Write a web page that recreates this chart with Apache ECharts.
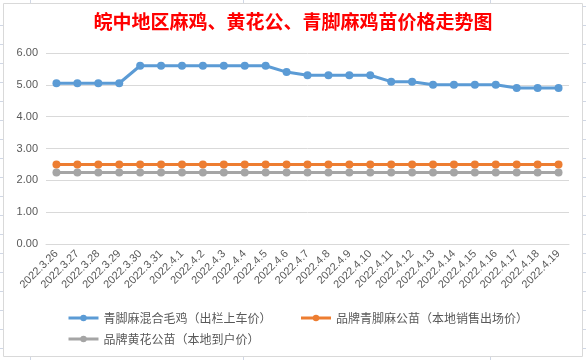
<!DOCTYPE html>
<html><head><meta charset="utf-8">
<script src="https://cdn.jsdelivr.net/npm/echarts@6/dist/echarts.min.js"></script>
<style>html,body{margin:0;padding:0;background:#fff}#c{width:586px;height:360px}</style>
</head><body><div id="c"></div>
<script>
const categories = ['2022.3.26','2022.3.27','2022.3.28','2022.3.29','2022.3.30','2022.3.31','2022.4.1','2022.4.2','2022.4.3','2022.4.4','2022.4.5','2022.4.6','2022.4.7','2022.4.8','2022.4.9','2022.4.10','2022.4.11','2022.4.12','2022.4.13','2022.4.14','2022.4.15','2022.4.16','2022.4.17','2022.4.18','2022.4.19'];
const seriesNames = ['青脚麻混合毛鸡（出栏上车价）','品牌青脚麻公苗（本地销售出场价）','品牌黄花公苗（本地到户价）'];
const blueValues = [5.05,5.05,5.05,5.05,5.6,5.6,5.6,5.6,5.6,5.6,5.6,5.4,5.3,5.3,5.3,5.3,5.1,5.1,5.0,5.0,5.0,5.0,4.9,4.9,4.9];
const orangeValues = [2.5,2.5,2.5,2.5,2.5,2.5,2.5,2.5,2.5,2.5,2.5,2.5,2.5,2.5,2.5,2.5,2.5,2.5,2.5,2.5,2.5,2.5,2.5,2.5,2.5];
const grayValues = [2.25,2.25,2.25,2.25,2.25,2.25,2.25,2.25,2.25,2.25,2.25,2.25,2.25,2.25,2.25,2.25,2.25,2.25,2.25,2.25,2.25,2.25,2.25,2.25,2.25];
const yTicks = [0,1,2,3,4,5,6];
const colors = ['#5B9BD5','#ED7D31','#A5A5A5'];

const chart = echarts.init(document.getElementById('c'));
const stub = '#D0D7E5';
const graphics = [{type:'rect', shape:{x:3.5,y:3.5,width:579,height:353}, style:{fill:'none',stroke:'#D9D9D9',lineWidth:1}, z:-1}];
for (let y = 6; y < 360; y += 19) {
  graphics.push({type:'line', shape:{x1:583,y1:y+0.5,x2:586,y2:y+0.5}, style:{stroke:stub,lineWidth:1}});
  if (y > 6) graphics.push({type:'line', shape:{x1:0,y1:y+0.5,x2:3,y2:y+0.5}, style:{stroke:stub,lineWidth:1}});
}
[30,243,490].forEach(x => {
  graphics.push({type:'line', shape:{x1:x+0.5,y1:0,x2:x+0.5,y2:3}, style:{stroke:stub,lineWidth:1}});
  graphics.push({type:'line', shape:{x1:x+0.5,y1:357,x2:x+0.5,y2:360}, style:{stroke:stub,lineWidth:1}});
});
const vals = [blueValues, orangeValues, grayValues];
const legendText = {color:'#595959', fontSize:12, fontFamily:'Noto Sans CJK SC'};
chart.setOption({
  animation:false,
  graphic: graphics,
  title:{text:'皖中地区麻鸡、黄花公、青脚麻鸡苗价格走势图', left:'center', top:7,
    textStyle:{color:'#FF0000', fontSize:19, fontWeight:'bold', fontFamily:'Noto Sans CJK SC'}},
  grid:{left:46, right:17, top:53, bottom:116},
  legend:[
    {data:[seriesNames[0],seriesNames[1]], left:67, top:312, padding:0, itemWidth:30, itemHeight:8, itemGap:28,
      lineStyle:{width:3}, textStyle:legendText},
    {data:[seriesNames[2]], left:67, top:333, padding:0, itemWidth:30, itemHeight:8,
      lineStyle:{width:3}, textStyle:legendText}
  ],
  xAxis:{type:'category', data:categories, boundaryGap:true,
    axisLine:{lineStyle:{color:'#D9D9D9'}}, axisTick:{show:false},
    axisLabel:{rotate:45, interval:0, margin:8, color:'#595959', fontSize:11, fontFamily:'Liberation Sans'}},
  yAxis:{type:'value', min:yTicks[0], max:yTicks[yTicks.length-1], interval:1,
    axisLine:{show:false}, axisTick:{show:false},
    splitLine:{lineStyle:{color:'#D9D9D9'}},
    axisLabel:{formatter:v=>v.toFixed(2), color:'#595959', fontSize:11, fontFamily:'Liberation Sans', margin:8}},
  series: seriesNames.map((n,i)=>({name:n, type:'line', data:vals[i], symbol:'circle', symbolSize:8,
    itemStyle:{color:colors[i]}, lineStyle:{color:colors[i], width:3}, z: 3-i}))
});
</script></body></html>
